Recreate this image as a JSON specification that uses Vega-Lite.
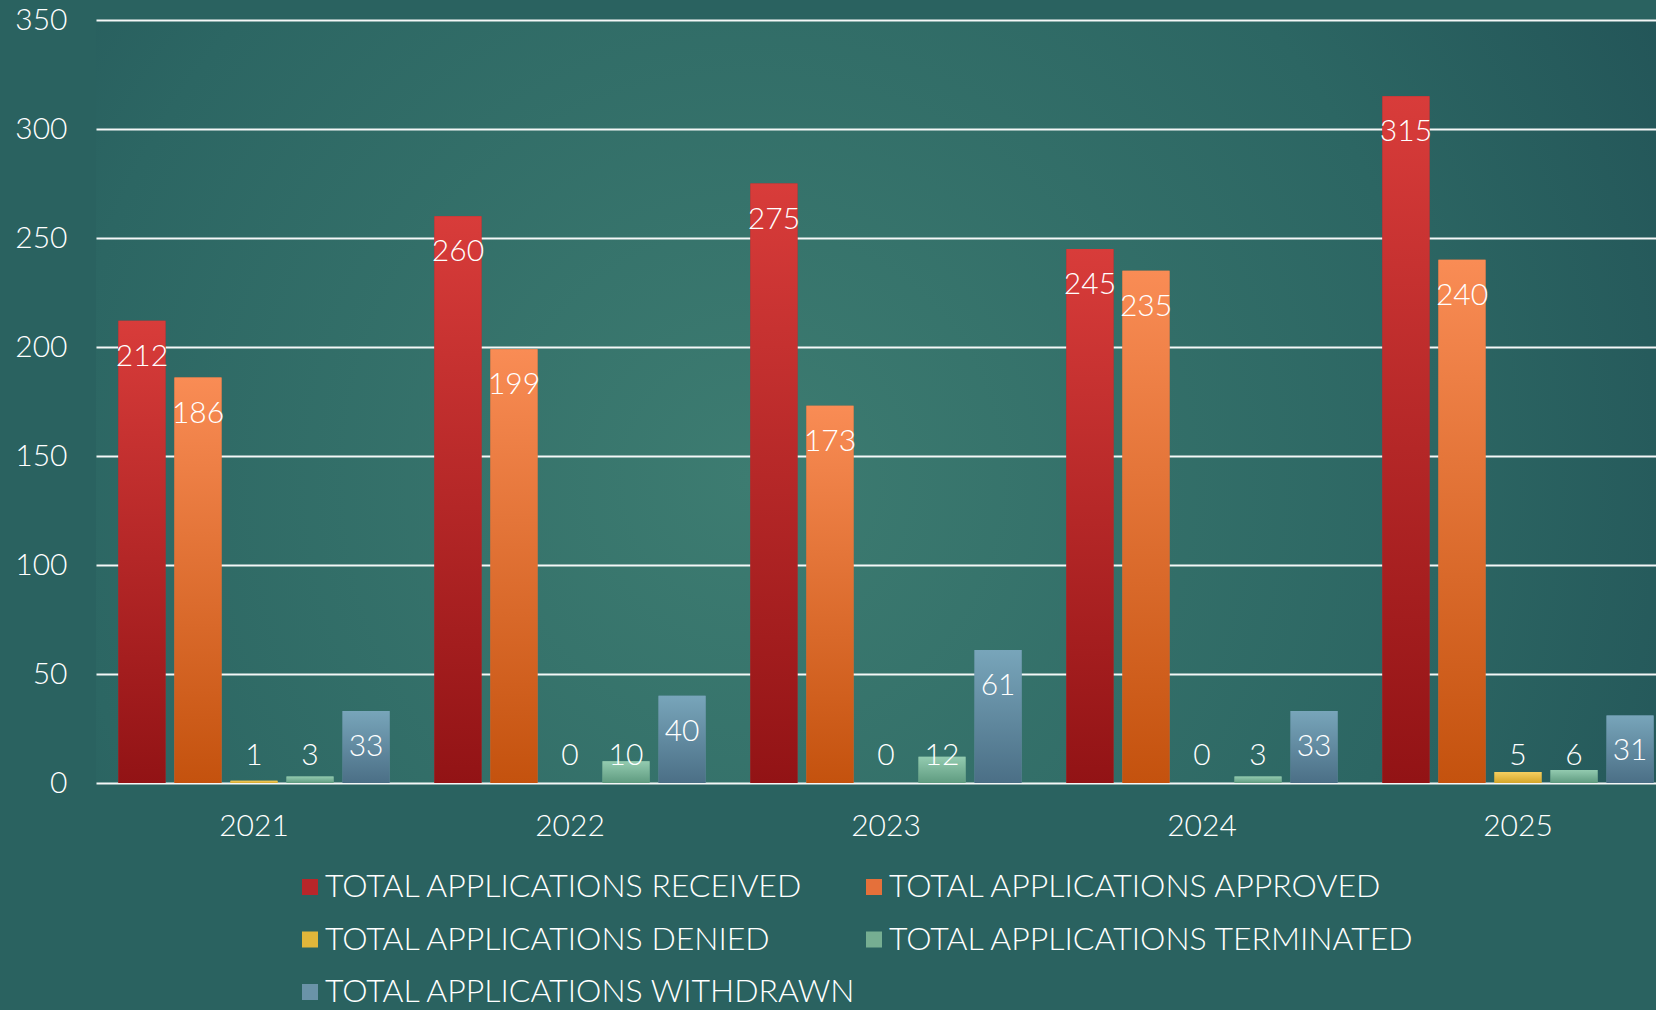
{
  "$schema": "https://vega.github.io/schema/vega-lite/v6.json",
  "width": 1560,
  "height": 763,
  "autosize": "none",
  "padding": {"left": 96, "top": 20, "right": 0, "bottom": 227},
  "background": "#2a6260",
  "config": {
    "font": "Lato",
    "view": {
      "stroke": null,
      "fill": {
        "gradient": "radial",
        "x1": 0.42, "y1": 0.55, "r1": 0,
        "x2": 0.42, "y2": 0.55, "r2": 0.8,
        "stops": [
          {"offset": 0, "color": "#3d7c71"},
          {"offset": 0.55, "color": "#2c6663"},
          {"offset": 1, "color": "#1d4a51"}
        ]
      }
    },
    "axis": {"labelColor": "white", "labelFontSize": 30, "labelFontWeight": 300, "title": null, "domain": false, "ticks": false}
  },
  "data": {
    "values": [
      {"year": "2021", "series": "TOTAL APPLICATIONS RECEIVED", "value": 212},
      {"year": "2021", "series": "TOTAL APPLICATIONS APPROVED", "value": 186},
      {"year": "2021", "series": "TOTAL APPLICATIONS DENIED", "value": 1},
      {"year": "2021", "series": "TOTAL APPLICATIONS TERMINATED", "value": 3},
      {"year": "2021", "series": "TOTAL APPLICATIONS WITHDRAWN", "value": 33},
      {"year": "2022", "series": "TOTAL APPLICATIONS RECEIVED", "value": 260},
      {"year": "2022", "series": "TOTAL APPLICATIONS APPROVED", "value": 199},
      {"year": "2022", "series": "TOTAL APPLICATIONS DENIED", "value": 0},
      {"year": "2022", "series": "TOTAL APPLICATIONS TERMINATED", "value": 10},
      {"year": "2022", "series": "TOTAL APPLICATIONS WITHDRAWN", "value": 40},
      {"year": "2023", "series": "TOTAL APPLICATIONS RECEIVED", "value": 275},
      {"year": "2023", "series": "TOTAL APPLICATIONS APPROVED", "value": 173},
      {"year": "2023", "series": "TOTAL APPLICATIONS DENIED", "value": 0},
      {"year": "2023", "series": "TOTAL APPLICATIONS TERMINATED", "value": 12},
      {"year": "2023", "series": "TOTAL APPLICATIONS WITHDRAWN", "value": 61},
      {"year": "2024", "series": "TOTAL APPLICATIONS RECEIVED", "value": 245},
      {"year": "2024", "series": "TOTAL APPLICATIONS APPROVED", "value": 235},
      {"year": "2024", "series": "TOTAL APPLICATIONS DENIED", "value": 0},
      {"year": "2024", "series": "TOTAL APPLICATIONS TERMINATED", "value": 3},
      {"year": "2024", "series": "TOTAL APPLICATIONS WITHDRAWN", "value": 33},
      {"year": "2025", "series": "TOTAL APPLICATIONS RECEIVED", "value": 315},
      {"year": "2025", "series": "TOTAL APPLICATIONS APPROVED", "value": 240},
      {"year": "2025", "series": "TOTAL APPLICATIONS DENIED", "value": 5},
      {"year": "2025", "series": "TOTAL APPLICATIONS TERMINATED", "value": 6},
      {"year": "2025", "series": "TOTAL APPLICATIONS WITHDRAWN", "value": 31}
    ]
  },
  "encoding": {
    "x": {
      "field": "year",
      "type": "nominal",
      "scale": {"range": [0, 1580], "paddingInner": 0, "paddingOuter": 0},
      "axis": {"labelAngle": 0, "labelBaseline": "alphabetic", "labelPadding": 52, "grid": false}
    },
    "xOffset": {
      "field": "series",
      "type": "nominal",
      "scale": {
        "domain": ["TOTAL APPLICATIONS RECEIVED", "TOTAL APPLICATIONS APPROVED", "TOTAL APPLICATIONS DENIED", "TOTAL APPLICATIONS TERMINATED", "TOTAL APPLICATIONS WITHDRAWN"],
        "paddingInner": 0.16,
        "paddingOuter": 0.4
      }
    }
  },
  "layer": [
    {
      "mark": {"type": "bar"},
      "encoding": {
        "y": {
          "field": "value",
          "type": "quantitative",
          "scale": {"domain": [0, 350], "nice": false},
          "axis": {"values": [0, 50, 100, 150, 200, 250, 300, 350], "grid": true, "gridColor": "white", "gridWidth": 2, "gridOpacity": 0.95, "labelPadding": 29}
        },
        "color": {
          "field": "series",
          "type": "nominal",
          "scale": {
            "domain": ["TOTAL APPLICATIONS RECEIVED", "TOTAL APPLICATIONS APPROVED", "TOTAL APPLICATIONS DENIED", "TOTAL APPLICATIONS TERMINATED", "TOTAL APPLICATIONS WITHDRAWN"],
            "range": ["#b8262a", "#e5703a", "#e0b63a", "#76ae92", "#6a93a8"]
          },
          "legend": {
            "orient": "none",
            "legendX": 198,
            "legendY": 851,
            "direction": "horizontal",
            "columns": 2,
            "title": null,
            "symbolType": "square",
            "symbolSize": 256,
            "symbolStrokeWidth": 0,
            "symbolOpacity": 1,
            "labelFontSize": 32,
            "labelFontWeight": 300,
            "labelColor": "white",
            "labelLimit": 1000,
            "labelOffset": -1,
            "rowPadding": 20.5,
            "columnPadding": 0,
            "padding": 0
          }
        }
      }
    },
    {
      "mark": {"type": "bar"},
      "encoding": {
        "y": {"field": "value", "type": "quantitative"},
        "fill": {
          "condition": [
            {"test": "datum.series === 'TOTAL APPLICATIONS RECEIVED'", "value": {"gradient": "linear", "x1": 0, "y1": 0, "x2": 0, "y2": 1, "stops": [{"offset": 0, "color": "#d83c3a"}, {"offset": 1, "color": "#921315"}]}},
            {"test": "datum.series === 'TOTAL APPLICATIONS APPROVED'", "value": {"gradient": "linear", "x1": 0, "y1": 0, "x2": 0, "y2": 1, "stops": [{"offset": 0, "color": "#f98c55"}, {"offset": 1, "color": "#c4520e"}]}},
            {"test": "datum.series === 'TOTAL APPLICATIONS DENIED'", "value": {"gradient": "linear", "x1": 0, "y1": 0, "x2": 0, "y2": 1, "stops": [{"offset": 0, "color": "#f5cf60"}, {"offset": 1, "color": "#d4a62a"}]}},
            {"test": "datum.series === 'TOTAL APPLICATIONS TERMINATED'", "value": {"gradient": "linear", "x1": 0, "y1": 0, "x2": 0, "y2": 1, "stops": [{"offset": 0, "color": "#93cbb0"}, {"offset": 1, "color": "#5f9b80"}]}}
          ],
          "value": {"gradient": "linear", "x1": 0, "y1": 0, "x2": 0, "y2": 1, "stops": [{"offset": 0, "color": "#78a5ba"}, {"offset": 1, "color": "#4b6f86"}]}
        }
      }
    },
    {
      "transform": [{"calculate": "max(datum.value, 29)", "as": "labelPos"}],
      "mark": {"type": "text", "dy": 36, "baseline": "middle", "fontSize": 30, "fontWeight": 300, "color": "white"},
      "encoding": {
        "y": {"field": "labelPos", "type": "quantitative"},
        "text": {"field": "value", "type": "quantitative"}
      }
    }
  ]
}
